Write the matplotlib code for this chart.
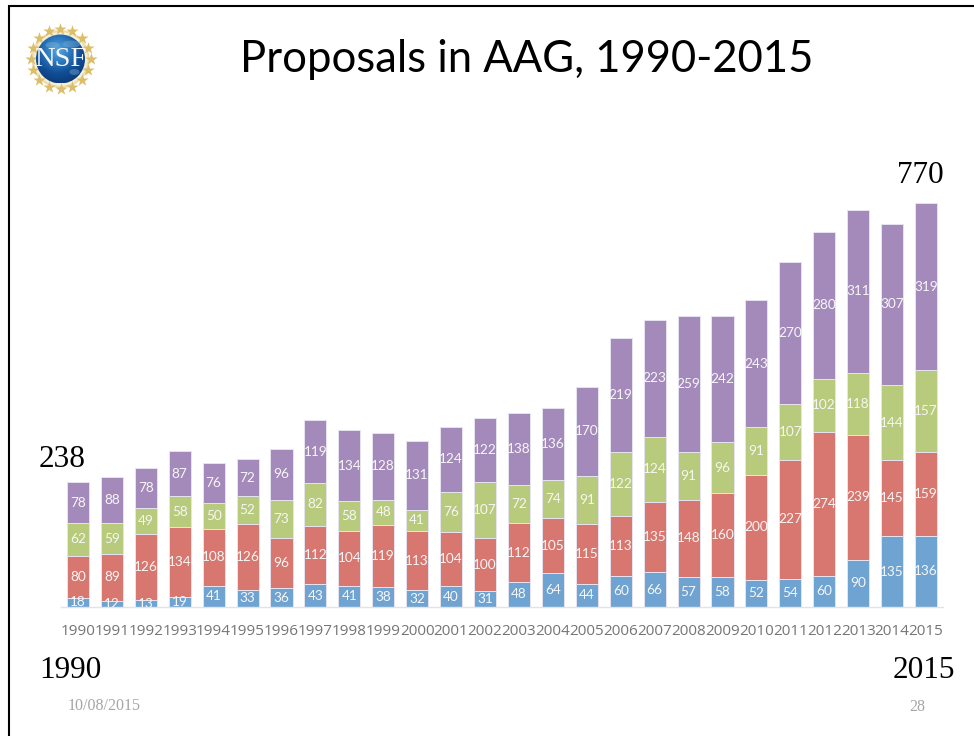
import matplotlib

matplotlib.use("Agg")
import matplotlib.pyplot as plt
import numpy as np
from matplotlib.colors import LinearSegmentedColormap
from matplotlib.patches import Circle, Ellipse

W, H = 974, 736

years = list(range(1990, 2016))
blue = [18, 12, 13, 19, 41, 33, 36, 43, 41, 38, 32, 40, 31, 48, 64, 44, 60, 66, 57, 58, 52, 54, 60, 90, 135, 136]
red = [80, 89, 126, 134, 108, 126, 96, 112, 104, 119, 113, 104, 100, 112, 105, 115, 113, 135, 148, 160, 200, 227, 274, 239, 145, 159]
green = [62, 59, 49, 58, 50, 52, 73, 82, 58, 48, 41, 76, 107, 72, 74, 91, 122, 124, 91, 96, 91, 107, 102, 118, 144, 157]
purple = [78, 88, 78, 87, 76, 72, 96, 119, 134, 128, 131, 124, 122, 138, 136, 170, 219, 223, 259, 242, 243, 270, 280, 311, 307, 319]

series = [blue, red, green, purple]
colors = ["#6fa3d2", "#d7776f", "#b8ca7b", "#a48aba"]

fig = plt.figure(figsize=(W / 100, H / 100), dpi=100)

# full-slide layer in pixel coordinates, for the frame, logo and slide text
bg = fig.add_axes([0, 0, 1, 1])
bg.set_xlim(0, W)
bg.set_ylim(H, 0)
bg.axis("off")
bg.plot([8.5, 8.5, W], [H, 6, 6], color="black", lw=1.5, solid_joinstyle="miter")


def draw_logo(ax, cx=60.5, cy=59, r=24.5):
    angles = np.linspace(0, 2 * np.pi, 16, endpoint=False)
    ax.add_patch(Circle((cx, cy), 28, fc="#f5eed8", ec="#ecdca8", lw=1.5, zorder=1))
    ax.scatter(cx + 30 * np.cos(angles), cy + 30 * np.sin(angles), marker="*", s=85,
               color="#dcbd68", linewidths=0, zorder=2)
    globe = LinearSegmentedColormap.from_list("globe", ["#5aa6dc", "#2f7cc0", "#124f97", "#0c3a78"])
    yy, xx = np.mgrid[-1:1:96j, -1:1:96j]
    dist = np.hypot(xx + 0.1, yy + 0.35)
    im = ax.imshow(dist, extent=(cx - r, cx + r, cy + r, cy - r), cmap=globe,
                   vmin=0, vmax=1.4, zorder=3, aspect="auto")
    im.set_clip_path(Circle((cx, cy), r, transform=ax.transData))
    # rough land masses
    for dx, dy, w, h in [(-8, -14, 14, 6), (11, -15, 18, 7), (14, 13, 10, 6)]:
        land = Ellipse((cx + dx, cy + dy), w, h, fc="#7fb4d8", ec="none", alpha=0.4, zorder=3)
        ax.add_patch(land)
        land.set_clip_path(Circle((cx, cy), r, transform=ax.transData))
    ax.set_xlim(0, W)
    ax.set_ylim(H, 0)
    ax.text(cx, cy + 1, "NSF", color="#f4f6fa", family="Liberation Serif", fontsize=20.5,
            ha="center", va="center", zorder=4)


draw_logo(bg)

bg.text(526.5, 72, "Proposals in AAG, 1990-2015", family="Lato", fontsize=31.4, ha="center",
        va="baseline", color="black")

serif = "Liberation Serif"
bg.text(62, 467, "238", family=serif, fontsize=22.5, ha="center", va="baseline")
bg.text(920, 183, "770", family=serif, fontsize=22.5, ha="center", va="baseline")
bg.text(70.5, 678, "1990", family=serif, fontsize=22.5, ha="center", va="baseline")
bg.text(924, 678, "2015", family=serif, fontsize=22.5, ha="center", va="baseline")
bg.text(104, 710, "10/08/2015", family=serif, fontsize=11.5, color="#a6a6a6", ha="center", va="baseline")
bg.text(917, 711, "28", family=serif, fontsize=11.5, color="#a6a6a6", ha="center", va="baseline")

# chart axes: x spans 61..943 px, baseline sits at y=607 px
ax = fig.add_axes([61 / W, 1 - 607 / H, 882 / W, 440 / H])
ax.patch.set_alpha(0)
x = np.arange(len(years))
bottom = np.zeros(len(years))
for values, color in zip(series, colors):
    vals = np.array(values)
    ax.bar(x, vals, 0.65, bottom=bottom, color=color, edgecolor="#e6e3f0", linewidth=0.7)
    for xi, b, v in zip(x, bottom, vals):
        ax.text(xi, b + v / 2, str(v), color="#f6f6f6", family="Lato", fontsize=9.8,
                ha="center", va="center", clip_on=True)
    bottom = bottom + vals

ax.set_xlim(-0.5, len(years) - 0.5)
ax.set_ylim(0, 440 / 0.524)
for side in ["top", "left", "right"]:
    ax.spines[side].set_visible(False)
ax.spines["bottom"].set_color("#e3e3e3")
ax.spines["bottom"].set_linewidth(1.0)
ax.set_yticks([])
ax.set_xticks(x)
ax.set_xticklabels([str(y) for y in years], family="Open Sans", fontsize=11, color="#757575")
ax.tick_params(axis="x", length=0, pad=12)

fig.savefig("out.png", dpi=100)
plt.close(fig)
